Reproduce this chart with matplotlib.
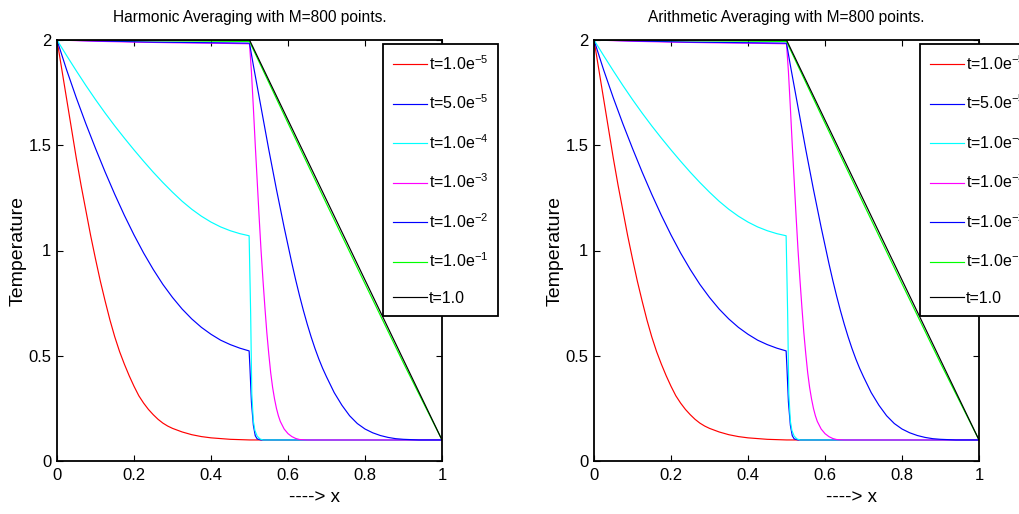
import matplotlib
matplotlib.use("Agg")
import matplotlib.pyplot as plt

# temperature profiles (same in both panels)
x_red = [0, 0.0125, 0.025, 0.0375, 0.05, 0.0625, 0.075, 0.0875, 0.1, 0.1125, 0.125, 0.1375, 0.15,
         0.1625, 0.175, 0.1875, 0.2, 0.2125, 0.225, 0.2375, 0.25, 0.2625, 0.275, 0.2875, 0.3,
         0.325, 0.35, 0.375, 0.4, 0.45, 0.5, 1.0]
T_red = [2.0, 1.86, 1.72, 1.58, 1.44, 1.31, 1.19, 1.07, 0.96, 0.855, 0.76, 0.67, 0.59,
         0.52, 0.46, 0.405, 0.355, 0.31, 0.275, 0.245, 0.22, 0.198, 0.18, 0.166, 0.155,
         0.138, 0.125, 0.116, 0.11, 0.103, 0.1, 0.1]

x_b5 = [0, 0.025, 0.05, 0.075, 0.1, 0.125, 0.15, 0.175, 0.2, 0.225, 0.25, 0.275, 0.3, 0.325, 0.35,
        0.375, 0.4, 0.425, 0.45, 0.475, 0.499, 0.501, 0.505, 0.51, 0.515, 0.52, 0.53, 1.0]
T_b5 = [2.0, 1.858, 1.726, 1.602, 1.485, 1.373, 1.267, 1.167, 1.074, 0.988, 0.910, 0.839, 0.777,
        0.722, 0.675, 0.635, 0.602, 0.574, 0.553, 0.536, 0.523, 0.45, 0.28, 0.17, 0.12, 0.105, 0.1, 0.1]

x_c4 = [0, 0.025, 0.05, 0.075, 0.1, 0.125, 0.15, 0.175, 0.2, 0.225, 0.25, 0.275, 0.3, 0.325, 0.35,
        0.375, 0.4, 0.425, 0.45, 0.475, 0.499, 0.503, 0.506, 0.51, 0.514, 0.52, 0.527, 0.535, 1.0]
T_c4 = [2.0, 1.926, 1.854, 1.784, 1.717, 1.653, 1.592, 1.534, 1.478, 1.424, 1.372, 1.323, 1.277,
        1.234, 1.196, 1.163, 1.135, 1.112, 1.094, 1.080, 1.070, 0.70, 0.32, 0.19, 0.145, 0.118,
        0.105, 0.1, 0.1]

x_m3 = [0, 0.1, 0.2, 0.3, 0.4, 0.5, 0.505, 0.51, 0.515, 0.52, 0.525, 0.53, 0.535, 0.54, 0.545,
        0.55, 0.555, 0.56, 0.565, 0.57, 0.575, 0.58, 0.59, 0.6, 0.61, 0.62, 0.63, 0.65, 1.0]
T_m3 = [2.0, 1.994, 1.99, 1.987, 1.985, 1.982, 1.85, 1.68, 1.5, 1.33, 1.16, 1.0, 0.86, 0.73, 0.61,
        0.51, 0.42, 0.35, 0.295, 0.25, 0.215, 0.188, 0.152, 0.13, 0.116, 0.107, 0.102, 0.1, 0.1]

x_b2 = [0, 0.25, 0.5, 0.51, 0.52, 0.53, 0.54, 0.55, 0.56, 0.57, 0.58, 0.59, 0.6, 0.61, 0.62, 0.63,
        0.64, 0.65, 0.66, 0.67, 0.68, 0.69, 0.7, 0.72, 0.74, 0.76, 0.78, 0.8, 0.82, 0.84, 0.86,
        0.88, 0.9, 0.94, 1.0]
T_b2 = [2.0, 1.99, 1.985, 1.88, 1.78, 1.68, 1.58, 1.48, 1.385, 1.29, 1.20, 1.11, 1.025, 0.94, 0.86,
        0.785, 0.715, 0.65, 0.59, 0.535, 0.485, 0.44, 0.40, 0.325, 0.265, 0.215, 0.178, 0.152,
        0.134, 0.121, 0.112, 0.106, 0.103, 0.1, 0.1]

x_g1 = [0, 0.5, 0.6, 0.7, 0.8, 0.9, 1.0]
T_g1 = [2.0, 1.993, 1.605, 1.222, 0.842, 0.465, 0.1]

x_k0 = [0, 0.5, 1.0]
T_k0 = [2.0, 2.0, 0.1]

labels = ["t=1.0e$^{-5}$", "t=5.0e$^{-5}$", "t=1.0e$^{-4}$", "t=1.0e$^{-3}$",
          "t=1.0e$^{-2}$", "t=1.0e$^{-1}$", "t=1.0"]
colors = ["#ff0000", "#0000ff", "#00ffff", "#ff00ff", "#0000ff", "#00ff00", "#000000"]
titles = ["Harmonic Averaging with M=800 points.", "Arithmetic Averaging with M=800 points."]
xticks = [0, 0.2, 0.4, 0.6, 0.8, 1]
xticklabels = ["0", "0.2", "0.4", "0.6", "0.8", "1"]
yticks = [0, 0.5, 1, 1.5, 2]
yticklabels = ["0", "0.5", "1", "1.5", "2"]

fam = "Liberation Sans"
plt.rcParams["font.family"] = [fam, "DejaVu Sans"]
plt.rcParams["mathtext.fontset"] = "custom"
plt.rcParams["mathtext.rm"] = fam
plt.rcParams["mathtext.it"] = fam
plt.rcParams["mathtext.default"] = "regular"

series = [(x_red, T_red), (x_b5, T_b5), (x_c4, T_c4), (x_m3, T_m3),
          (x_b2, T_b2), (x_g1, T_g1), (x_k0, T_k0)]

fig = plt.figure(figsize=(10.2, 5.14), dpi=100)
for i, left in enumerate([57, 594]):
    ax = fig.add_axes([left / 1020, 53 / 514, 385 / 1020, 421 / 514])
    for (xs, ts), c, lab in zip(series, colors, labels):
        ax.plot(xs, ts, color=c, lw=0.85, label=lab)
    ax.set_xlim(0, 1)
    ax.set_ylim(0, 2)
    ax.set_xticks(xticks)
    ax.set_xticklabels(xticklabels)
    ax.set_yticks(yticks)
    ax.set_yticklabels(yticklabels)
    ax.tick_params(direction="in", top=True, right=True, length=4, width=0.8,
                   labelsize=12, pad=5)
    ax.tick_params(axis="y", pad=4)
    for s in ax.spines.values():
        s.set_linewidth(1.3)
    ax.set_title(titles[i], fontsize=11.2, pad=13)
    ax.set_ylabel("Temperature", fontsize=14)
    ax.yaxis.set_label_coords(-0.078, 0.5)
    ax.set_xlabel("----> x", fontsize=13.5)
    ax.xaxis.set_label_coords(0.67, -0.066)
    leg = ax.legend(loc="upper left", bbox_to_anchor=(0.847, 0.99), borderaxespad=0,
                    fontsize=11.5, fancybox=False, framealpha=1, edgecolor="black",
                    handlelength=2.1, handletextpad=0.15, labelspacing=1.3,
                    borderpad=0.62)
    leg.get_frame().set_linewidth(1.3)

fig.savefig("out.png", dpi=100)
